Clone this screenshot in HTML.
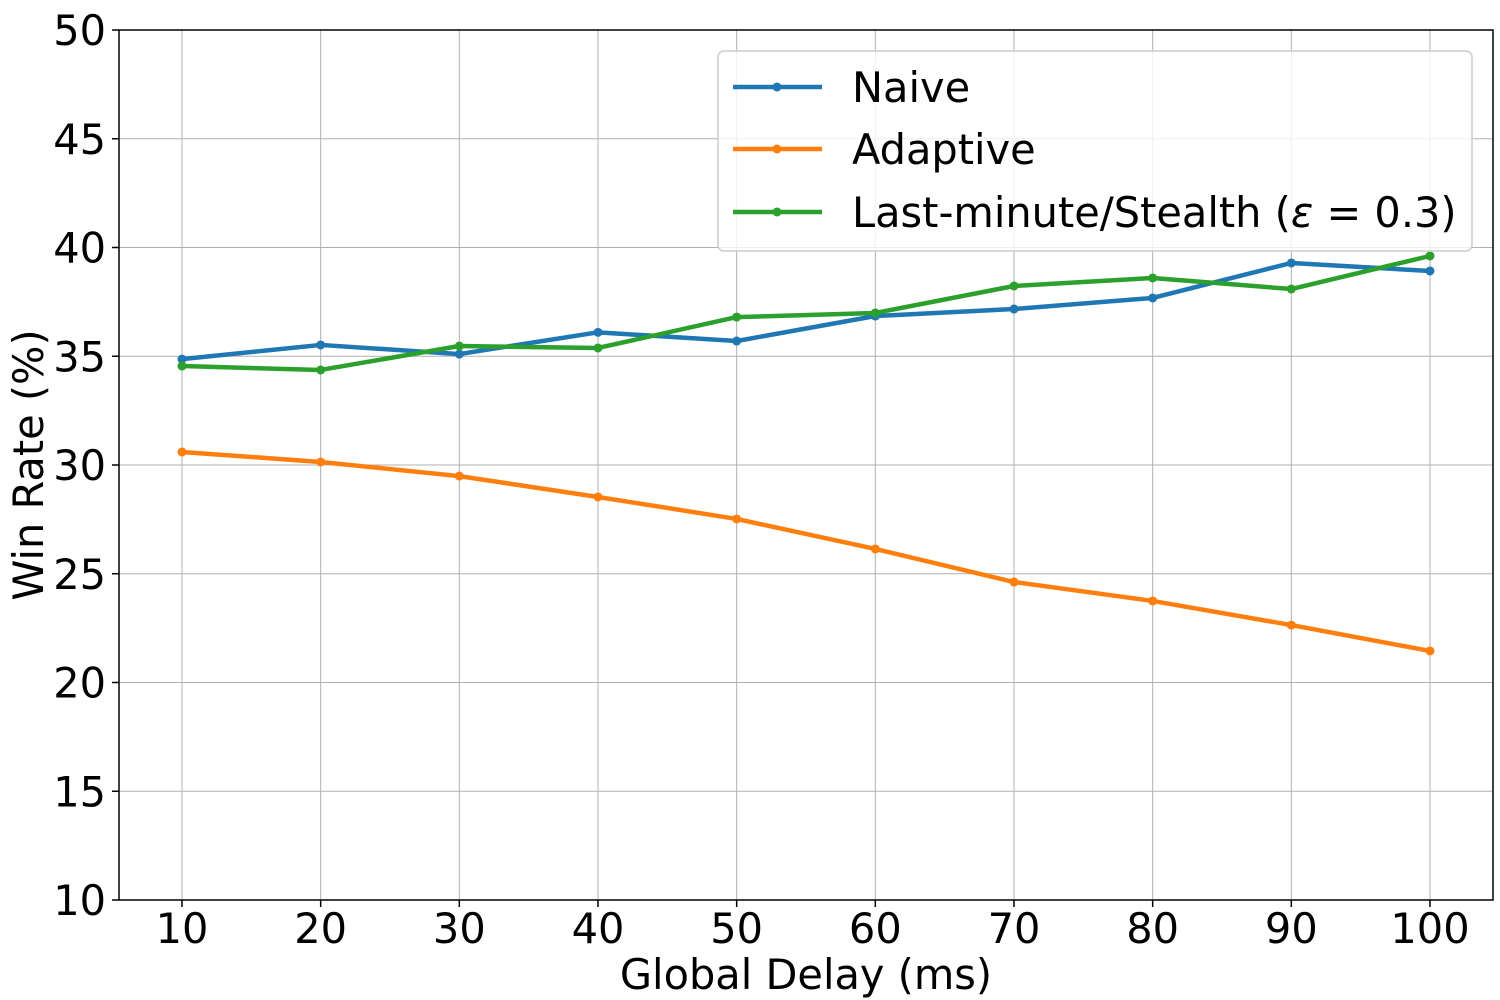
<!DOCTYPE html>
<html><head><meta charset="utf-8"><style>
html,body{margin:0;padding:0;background:#fff;}
svg{display:block;font-family:"DejaVu Sans","Liberation Sans",sans-serif;}
</style></head><body>
<svg id="chart" width="1500" height="1000" viewBox="0 0 1500 1000">
<g id="grid"></g>
<g id="series"></g>
<rect x="119" y="30" width="1374" height="870" fill="none" stroke="#000" stroke-width="1.5"/>
<g id="ticks"></g>
<text x="806" y="989" text-anchor="middle" font-size="41.5">Global Delay (ms)</text>
<text transform="translate(43,465) rotate(-90)" text-anchor="middle" font-size="41.5">Win Rate (%)</text>
<g>
<rect x="718" y="51" width="754" height="200" rx="6" fill="#fff" fill-opacity="0.8" stroke="#ccc" stroke-width="1.5"/>
<g><line x1="733" y1="87" x2="822" y2="87" stroke="#1f77b4" stroke-width="4.5"/><circle cx="777" cy="87" r="4.5" fill="#1f77b4"/><text x="852" y="102" font-size="41.5">Naive</text></g>
<g><line x1="733" y1="149" x2="822" y2="149" stroke="#ff7f0e" stroke-width="4.5"/><circle cx="777" cy="149" r="4.5" fill="#ff7f0e"/><text x="852" y="164" font-size="41.5">Adaptive</text></g>
<g><line x1="733" y1="212" x2="822" y2="212" stroke="#2ca02c" stroke-width="4.5"/><circle cx="777" cy="212" r="4.5" fill="#2ca02c"/><text x="852" y="227" font-size="41.5">Last-minute/Stealth (<tspan font-style="italic">ε</tspan> = 0.3)</text></g>
</g>
</svg>
<script>
const categories=[10,20,30,40,50,60,70,80,90,100];
const naive=[34.87,35.52,35.1,36.1,35.7,36.85,37.17,37.68,39.29,38.92];
const adaptive=[30.6,30.14,29.49,28.53,27.52,26.14,24.62,23.75,22.64,21.45];
const stealth=[34.55,34.37,35.47,35.38,36.8,36.99,38.23,38.6,38.09,39.61];
const yTicks=[10,15,20,25,30,35,40,45,50];
const NS="http://www.w3.org/2000/svg";
const xs=v=>182+(v-10)*(1430-182)/90;
const ys=v=>900-(v-10)*870/40;
function mk(tag,attrs,parent){const e=document.createElementNS(NS,tag);for(const k in attrs)e.setAttribute(k,attrs[k]);parent.appendChild(e);return e;}
const grid=document.getElementById('grid'),ticks=document.getElementById('ticks'),ser=document.getElementById('series');
categories.forEach(c=>{
 const g=mk('line',{x1:xs(c),x2:xs(c),y1:30,y2:900,stroke:'#b0b0b0','stroke-width':1},grid);
 
 
 const tm=mk('line',{x1:xs(c),x2:xs(c),y1:900,y2:907,stroke:'#000','stroke-width':1.5},ticks);
 
 
 const t=mk('text',{x:xs(c),y:943,'text-anchor':'middle','font-size':41.5},ticks);t.textContent=c;
 
 
});
yTicks.forEach(v=>{
 const g=mk('line',{x1:119,x2:1493,y1:ys(v),y2:ys(v),stroke:'#b0b0b0','stroke-width':1},grid);
 
 
 const tm=mk('line',{x1:112,x2:119,y1:ys(v),y2:ys(v),stroke:'#000','stroke-width':1.5},ticks);
 
 
 const t=mk('text',{x:106,y:ys(v)+15,'text-anchor':'end','font-size':41.5},ticks);t.textContent=v;
 
 
});
[[naive,'#1f77b4','naive'],[adaptive,'#ff7f0e','adaptive'],[stealth,'#2ca02c','stealth']].forEach(([d,col,nm])=>{
 const p=mk('polyline',{points:d.map((v,i)=>xs(categories[i])+','+ys(v)).join(' '),fill:'none',stroke:col,'stroke-width':4.5,'stroke-linejoin':'round'},ser);
 
 
 d.forEach((v,i)=>{const c=mk('circle',{cx:xs(categories[i]),cy:ys(v),r:4.5,fill:col},ser);
 
 });
});
</script>
</body></html>
